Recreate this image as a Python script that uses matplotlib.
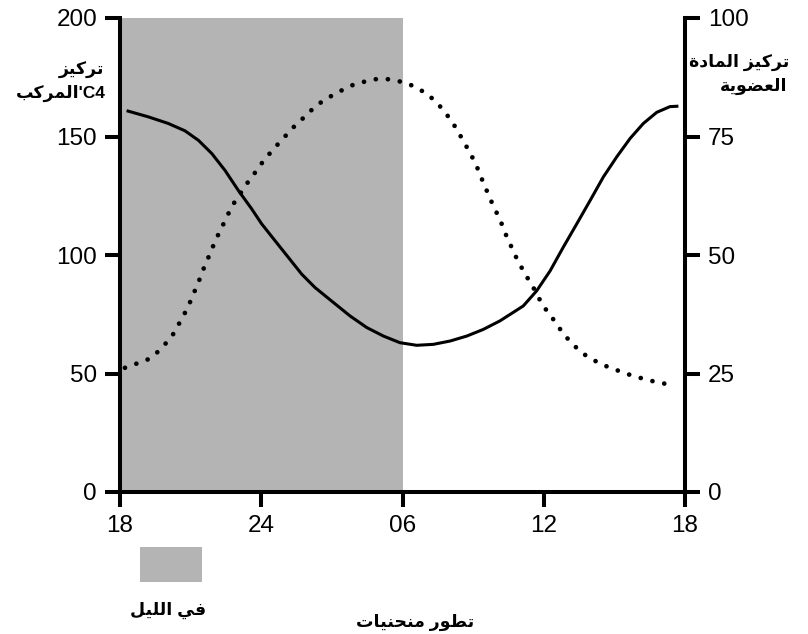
import matplotlib
matplotlib.use('Agg')
import matplotlib.pyplot as plt

# hours since 18h (x axis), night from 18h to 06h
hours_solid = [0.28, 1.20, 2.05, 2.76, 3.33, 3.90, 4.46, 5.03, 5.59, 6.02, 6.58,
               7.15, 7.72, 8.28, 9.06, 9.77, 10.48, 11.19, 11.89, 12.60, 13.31,
               14.02, 14.73, 15.43, 16.14, 17.13, 17.70, 18.27, 18.83, 19.40, 19.97,
               20.53, 21.10, 21.67, 22.23, 22.80, 23.36, 23.72]
c4_values = [160.9, 158.3, 155.5, 152.4, 148.4, 142.8, 135.7, 127.2, 119.5, 113.1, 106.1,
             99.0, 91.9, 86.3, 80.0, 74.3, 69.4, 65.8, 63.0, 61.9, 62.3,
             63.7, 65.8, 68.6, 72.2, 78.5, 84.9, 93.3, 103.3, 113.1, 123.0,
             132.9, 141.4, 149.2, 155.5, 160.2, 162.6, 162.8]

hours_dotted = [0.21, 0.71, 1.13, 1.53, 1.88, 2.20, 2.43, 2.66, 2.88, 3.07, 3.26, 3.44,
                3.61, 3.81, 3.99, 4.21, 4.42, 4.63, 4.86, 5.41, 5.71, 5.98, 6.27,
                6.60, 6.94, 7.25, 7.59, 7.96, 8.28, 8.68, 9.10, 9.52, 9.95, 10.41,
                10.88, 11.36, 11.82, 12.26, 12.70, 13.10, 13.45, 13.78, 14.06, 14.32,
                14.56, 14.81, 15.03, 15.24, 15.42, 15.62, 15.81, 16.02, 16.21, 16.40,
                16.60, 16.81, 17.03, 17.28, 17.53, 17.74, 17.98, 18.27, 18.55, 18.83,
                19.15, 19.50, 19.87, 20.28, 20.72, 21.16, 21.61, 22.08, 22.54, 23.00,
                23.50]
organic_values = [26.2, 27.1, 27.8, 29.2, 31.0, 32.8, 34.8, 36.9, 38.9, 41.2, 43.4, 45.6,
                  47.9, 50.1, 52.3, 54.7, 56.8, 59.0, 61.1, 65.2, 67.2, 69.1, 70.9,
                  72.8, 74.6, 76.4, 78.0, 79.7, 81.3, 82.7, 83.9, 85.0, 86.0, 86.6,
                  87.1, 87.1, 86.7, 86.1, 85.0, 83.8, 82.1, 80.4, 78.3, 76.5,
                  74.2, 72.1, 70.0, 67.7, 65.4, 63.1, 60.9, 58.7, 56.6, 54.2,
                  52.0, 49.7, 47.6, 45.4, 43.4, 41.4, 39.2, 37.4, 35.4, 33.4,
                  31.6, 29.9, 28.5, 27.4, 26.4, 25.6, 24.8, 24.1, 23.5, 22.9,
                  22.8]

night_start = 0
night_end = 12
x_ticks = [0, 6, 12, 18, 24]
x_labels = ['18', '24', '06', '12', '18']
left_ticks = [0, 50, 100, 150, 200]
right_ticks = [0, 25, 50, 75, 100]

GRAY = '#b4b4b4'

# arabic letters -> (isolated, final, initial, medial)
FORMS = {
    'ا': ('\uFE8D', '\uFE8E', None, None),
    'ب': ('\uFE8F', '\uFE90', '\uFE91', '\uFE92'),
    'ة': ('\uFE93', '\uFE94', None, None),
    'ت': ('\uFE95', '\uFE96', '\uFE97', '\uFE98'),
    'ح': ('\uFEA1', '\uFEA2', '\uFEA3', '\uFEA4'),
    'د': ('\uFEA9', '\uFEAA', None, None),
    'ر': ('\uFEAD', '\uFEAE', None, None),
    'ز': ('\uFEAF', '\uFEB0', None, None),
    'ض': ('\uFEBD', '\uFEBE', '\uFEBF', '\uFEC0'),
    'ط': ('\uFEC1', '\uFEC2', '\uFEC3', '\uFEC4'),
    'ع': ('\uFEC9', '\uFECA', '\uFECB', '\uFECC'),
    'ف': ('\uFED1', '\uFED2', '\uFED3', '\uFED4'),
    'ك': ('\uFED9', '\uFEDA', '\uFEDB', '\uFEDC'),
    'ل': ('\uFEDD', '\uFEDE', '\uFEDF', '\uFEE0'),
    'م': ('\uFEE1', '\uFEE2', '\uFEE3', '\uFEE4'),
    'ن': ('\uFEE5', '\uFEE6', '\uFEE7', '\uFEE8'),
    'و': ('\uFEED', '\uFEEE', None, None),
    'ي': ('\uFEF1', '\uFEF2', '\uFEF3', '\uFEF4'),
}


def shape_word(word):
    out = []
    for i, c in enumerate(word):
        if c not in FORMS:
            out.append(c)
            continue
        prev_join = i > 0 and word[i-1] in FORMS and FORMS[word[i-1]][2] is not None
        next_join = (FORMS[c][2] is not None and i + 1 < len(word)
                     and word[i+1] in FORMS)
        if prev_join and next_join:
            out.append(FORMS[c][3])
        elif prev_join:
            out.append(FORMS[c][1])
        elif next_join:
            out.append(FORMS[c][2])
        else:
            out.append(FORMS[c][0])
    return ''.join(out)


def ar(text):
    # visual order for left-to-right drawing
    words = [shape_word(w)[::-1] for w in text.split(' ')]
    return ' '.join(reversed(words))


FAM = ['Liberation Sans', 'DejaVu Sans']
plt.rcParams['font.family'] = FAM

fig = plt.figure(figsize=(8.08, 6.34), dpi=100)
ax = fig.add_axes([120/808, 1-492/634, 565/808, 474/634])
ax2 = ax.twinx()

ax.axvspan(night_start, night_end, color=GRAY, lw=0, zorder=0)
ax.plot(hours_solid, c4_values, color='black', lw=2.2, solid_capstyle='butt',
        solid_joinstyle='round', zorder=3)
ax2.plot(hours_dotted, organic_values, color='black', lw=3.4,
         linestyle=(0, (0.01, 2.55)), dash_capstyle='round', zorder=3)

ax.set_xlim(0, 24)
ax.set_ylim(0, 200)
ax2.set_ylim(0, 100)
ax.set_xticks(x_ticks)
ax.set_xticklabels(x_labels)
ax.set_yticks(left_ticks)
ax2.set_yticks(right_ticks)

for a in (ax, ax2):
    a.spines['top'].set_visible(False)
    for s in ('left', 'right', 'bottom'):
        a.spines[s].set_linewidth(2.9)
    a.tick_params(width=2.9, length=10.5, pad=6, labelsize=17.5, colors='black')
ax.spines['right'].set_visible(False)
ax2.spines['left'].set_visible(False)
ax2.spines['bottom'].set_visible(False)

# axis titles
fig.text(104/808, 1-70/634, ar('تركيز'), ha='right', va='center',
         fontsize=12.5, fontweight='bold', family=FAM)
fig.text(106/808, 1-93/634, ar('المركب') + "'C4", ha='right', va='center',
         fontsize=12.5, fontweight='bold', family=FAM)
fig.text(789/808, 1-62/634, ar('تركيز المادة'), ha='right', va='center',
         fontsize=12.5, fontweight='bold', family=FAM)
fig.text(787/808, 1-86/634, ar('العضوية'), ha='right', va='center',
         fontsize=12.5, fontweight='bold', family=FAM)

# legend for the night
fig.patches.append(plt.Rectangle((140/808, 1-582/634), 62/808, 35/634,
                                 transform=fig.transFigure, color=GRAY, lw=0))
fig.text(168/808, 1-610/634, ar('في الليل'), ha='center', va='center',
         fontsize=12.5, fontweight='bold', family=FAM)
fig.text(415/808, 1-622/634, ar('تطور منحنيات'), ha='center', va='center',
         fontsize=12.5, fontweight='bold', family=FAM)

fig.savefig('out.png', dpi=100)
